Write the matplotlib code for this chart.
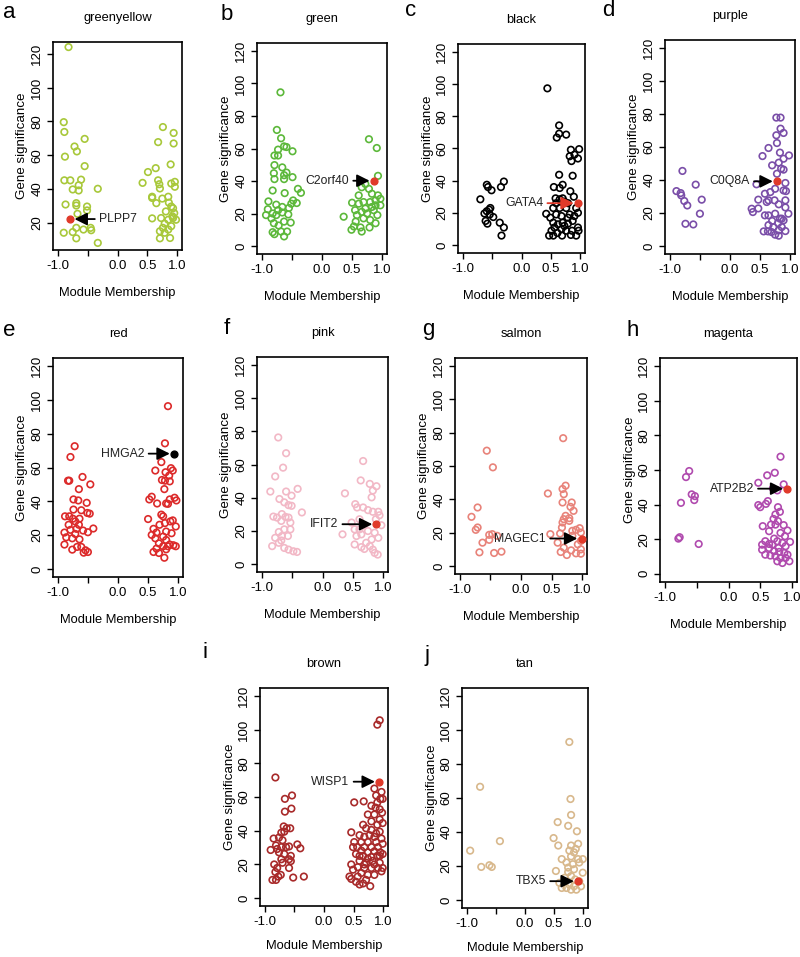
import numpy as np
import matplotlib
matplotlib.use('Agg')
import matplotlib.pyplot as plt

plt.rcParams['font.family'] = ['Liberation Sans', 'DejaVu Sans']

# module membership (x) and gene significance (y) for each module
greenyellow_mm = [-0.82, -0.90, -0.89, -0.72, -0.68, -0.55, -0.88, -0.55, -0.89, -0.79, -0.61, -0.65, -0.75,
                  -0.65, -0.33, -0.87, -0.69, -0.69, -0.51, -0.51, -0.67, -0.69, -0.57, -0.45, -0.44, -0.90,
                  -0.75, -0.69, -0.33,
                  0.42, 0.51, 0.64, 0.76, 0.68, 0.94, 0.94, 0.89, 0.68, 0.70, 0.71, 0.58, 0.58, 0.65, 0.75,
                  0.85, 0.86, 0.90, 0.93, 0.95, 0.93, 0.90, 0.96, 0.96, 0.81, 0.73, 0.58, 0.85, 0.98, 0.79,
                  0.76, 0.71, 0.85, 0.90, 0.79, 0.71, 0.88, 0.92]
greenyellow_gs = [124, 79.6, 73.8, 65.2, 62.3, 69.7, 59.2, 53.6, 45.2, 45.2, 45.6, 42.3, 39.8,
                  39.2, 40.2, 30.9, 31.7, 30.3, 29.7, 27.4, 25.4, 17.1, 16.1, 17.1, 15.7, 14.2,
                  14.6, 10.9, 8.2,
                  43.7, 50.1, 52.4, 76.7, 67.8, 73.2, 67.0, 54.6, 45.2, 42.9, 40.4, 35.5, 34.8, 31.7, 34.4,
                  35.5, 32.0, 29.7, 28.7, 25.8, 22.9, 43.3, 44.3, 41.4, 26.8, 22.9, 22.7, 21.9, 21.9, 19.6,
                  17.1, 15.1, 16.1, 18.1, 14.2, 10.9, 11.1, 23.9]

green_mm = [-0.69, -0.75, -0.68, -0.73, -0.63, -0.59, -0.49, -0.79, -0.73, -0.79, -0.66, -0.80, -0.59, -0.63,
            -0.79, -0.63, -0.49, -0.82, -0.40, -0.35, -0.62, -0.89, -0.48, -0.51, -0.42, -0.76, -0.66, -0.55,
            -0.90, -0.73, -0.82, -0.66, -0.93, -0.76, -0.84, -0.56, -0.63, -0.80, -0.52, -0.82, -0.68, -0.58,
            -0.79, -0.63, -0.72,
            0.78, 0.91, 0.93, 0.36, 0.50, 0.49, 0.61, 0.66, 0.72, 0.78, 0.83, 0.93, 0.97, 0.89, 0.80, 0.69,
            0.61, 0.55, 0.66, 0.75, 0.86, 0.92, 0.80, 0.69, 0.56, 0.53, 0.64, 0.79, 0.89, 0.97, 0.72, 0.83,
            0.58, 0.66, 0.89]
green_gs = [94.5, 71.4, 66.3, 59.3, 61.3, 60.9, 58.3, 55.7, 55.7, 49.8, 48.4, 44.8, 45.2, 43.6,
            41.2, 41.2, 42.4, 34.2, 35.2, 32.8, 32.6, 27.5, 28.1, 26.1, 26.5, 25.5, 24.1, 23.5,
            22.7, 22.1, 20.1, 20.7, 19.1, 19.1, 17.1, 19.5, 15.1, 14.1, 14.5, 8.6, 9.0, 9.0,
            7.4, 6.0, 12.7,
            65.7, 60.3, 43.2, 18.1, 26.7, 10.1, 31.2, 36.2, 38.2, 35.2, 32.2, 31.2, 25.1, 28.1, 27.1, 27.1,
            26.1, 22.1, 21.1, 20.1, 22.1, 19.1, 16.1, 17.1, 15.1, 12.1, 11.5, 11.5, 14.1, 29.1, 23.1, 24.1,
            19.1, 9.0, 25.1]

black_mm = [-0.70, -0.59, -0.57, -0.51, -0.35, -0.30, -0.59, -0.53, -0.55, -0.48, -0.61, -0.58, -0.37,
            -0.30, -0.34, -0.54, -0.63,
            0.44, 0.64, 0.64, 0.60, 0.76, 0.98, 0.84, 0.90, 0.96, 0.82, 0.85, 0.64, 0.87, 0.70, 0.65,
            0.55, 0.83, 0.89, 0.58, 0.65, 0.70, 0.73, 0.79, 0.59, 0.54, 0.65, 0.76, 0.93, 0.96, 0.42,
            0.49, 0.59, 0.68, 0.79, 0.54, 0.62, 0.70, 0.79, 0.87, 0.56, 0.68, 0.76, 0.86, 0.96, 0.97,
            0.51, 0.61, 0.54, 0.69, 0.84, 0.93, 0.47, 0.73, 0.82, 0.90]
black_gs = [28.5, 37.5, 36.1, 34.1, 36.1, 39.5, 21.1, 23.1, 22.1, 17.5, 15.1, 13.4, 14.0,
            11.0, 6.0, 19.1, 19.7,
            97.3, 74.3, 69.2, 66.8, 68.6, 59.6, 59.2, 56.2, 53.8, 55.2, 52.2, 43.7, 43.1, 37.5, 35.5,
            36.1, 33.5, 30.1, 29.1, 28.5, 29.1, 27.1, 26.1, 26.1, 23.1, 23.1, 23.1, 23.1, 20.1, 19.5,
            17.1, 19.1, 18.1, 17.1, 14.0, 13.0, 14.0, 13.4, 15.1, 11.0, 10.0, 9.0, 9.0, 11.0, 9.0,
            9.0, 7.6, 6.0, 6.0, 6.4, 6.0, 6.0, 12.0, 19.1, 18.1]

purple_mm = [-0.89, -0.82, -0.81, -0.79, -0.76, -0.71, -0.57, -0.47, -0.50, -0.74, -0.61,
             0.77, 0.84, 0.84, 0.89, 0.77, 0.78, 0.64, 0.54, 0.83, 0.98, 0.89, 0.81, 0.70, 0.85, 0.89,
             0.78, 0.44, 0.92, 0.89, 0.93, 0.75, 0.58, 0.67, 0.47, 0.64, 0.74, 0.61, 0.81, 0.92, 0.97,
             0.36, 0.38, 0.47, 0.92, 0.58, 0.64, 0.75, 0.83, 0.89, 0.70, 0.80, 0.64, 0.86, 0.72, 0.81,
             0.56, 0.63, 0.69, 0.92, 0.75, 0.81, 0.86]
purple_gs = [33.3, 32.1, 30.7, 45.5, 27.3, 24.6, 37.2, 28.1, 19.6, 13.5, 13.1,
             77.8, 77.8, 71.1, 68.5, 67.1, 62.4, 59.4, 54.5, 56.6, 54.9, 52.9, 50.5, 48.9, 46.9, 46.3,
             43.8, 37.4, 38.2, 33.7, 33.3, 34.7, 31.7, 32.7, 28.1, 27.7, 27.7, 26.7, 25.3, 27.7, 19.6,
             22.6, 20.6, 22.8, 23.4, 18.6, 18.6, 19.6, 16.6, 15.6, 15.2, 13.9, 12.7, 11.5, 11.5, 9.5,
             8.9, 8.9, 8.5, 9.1, 6.9, 6.3, 16.6]

red_mm = [-0.72, -0.79, -0.83, -0.81, -0.59, -0.46, -0.65, -0.74, -0.66, -0.52, -0.74, -0.61, -0.51,
          -0.47, -0.88, -0.81, -0.75, -0.64, -0.71, -0.82, -0.65, -0.69, -0.41, -0.79, -0.58, -0.50,
          -0.89, -0.71, -0.86, -0.76, -0.64, -0.89, -0.68, -0.76, -0.54, -0.57, -0.50, -0.61,
          0.83, 0.78, 0.72, 0.62, 0.88, 0.91, 0.79, 0.85, 0.73, 0.78, 0.86, 0.77, 0.56, 0.52, 0.94,
          0.97, 0.86, 0.83, 0.65, 0.80, 0.72, 0.75, 0.50, 0.91, 0.87, 0.78, 0.69, 0.96, 0.59, 0.64,
          0.56, 0.80, 0.89, 0.75, 0.62, 0.68, 0.80, 0.86, 0.92, 0.96, 0.75, 0.64, 0.80, 0.59, 0.68,
          0.77, 0.83]
red_gs = [72.6, 66.2, 52.2, 52.2, 54.4, 50.0, 47.2, 41.1, 40.5, 39.1, 35.1, 34.7, 33.1,
          32.7, 31.1, 31.1, 29.7, 29.7, 28.1, 26.1, 26.1, 23.7, 23.9, 23.1, 22.7, 21.7,
          21.5, 20.7, 18.7, 18.1, 17.5, 14.4, 13.0, 11.4, 11.0, 9.6, 10.0, 13.0,
          96.3, 74.3, 63.2, 58.2, 59.6, 58.2, 57.2, 55.2, 52.6, 52.2, 51.8, 47.2, 42.7, 41.1, 42.1,
          40.5, 41.1, 38.5, 38.7, 38.7, 32.1, 31.1, 29.5, 28.7, 28.1, 27.1, 26.1, 25.1, 23.7, 21.5,
          20.1, 22.1, 21.1, 19.1, 18.1, 15.1, 17.1, 14.4, 14.0, 13.4, 13.4, 12.0, 11.6, 10.0, 9.4,
          6.6, 13.4]

pink_mm = [-0.73, -0.60, -0.65, -0.78, -0.41, -0.86, -0.60, -0.51, -0.71, -0.63, -0.56, -0.51, -0.34,
           -0.67, -0.81, -0.75, -0.61, -0.56, -0.68, -0.53, -0.63, -0.53, -0.72, -0.57, -0.78, -0.68,
           -0.72, -0.83, -0.63, -0.56, -0.48, -0.42, -0.67,
           0.67, 0.63, 0.78, 0.89, 0.83, 0.81, 0.37, 0.54, 0.57, 0.67, 0.75, 0.83, 0.92, 0.94, 0.48,
           0.61, 0.69, 0.88, 0.97, 0.33, 0.56, 0.64, 0.75, 0.86, 0.92, 0.81, 0.72, 0.53, 0.64, 0.69,
           0.78, 0.86, 0.91, 0.83, 0.53, 0.61]
pink_gs = [76.3, 66.8, 58.1, 52.8, 45.3, 43.7, 43.7, 41.2, 39.2, 37.2, 35.5, 35.1, 31.1,
           30.1, 28.6, 28.0, 28.4, 28.0, 26.0, 25.0, 20.9, 20.9, 19.3, 16.9, 15.8, 14.2,
           12.8, 10.8, 9.7, 8.7, 7.7, 7.3, 16.9,
           62.1, 50.4, 48.3, 46.9, 44.3, 40.2, 42.6, 36.1, 34.1, 34.1, 32.5, 31.5, 31.5, 29.4, 25.0,
           27.0, 23.4, 27.0, 23.4, 17.9, 16.9, 17.9, 19.9, 18.9, 15.8, 14.8, 12.8, 11.8, 10.2, 9.1,
           10.8, 6.7, 5.7, 8.7, 20.9, 20.9]

salmon_mm = [-0.56, -0.46, -0.71, -0.81, -0.71, -0.74, -0.52, -0.47, -0.39, -0.52, -0.63, -0.68, -0.44, -0.32,
             0.69, 0.44, 0.68, 0.73, 0.70, 0.68, 0.83, 0.81, 0.86, 0.73, 0.79, 0.70, 0.68, 0.67, 0.79,
             0.84, 0.90, 0.96, 0.98, 0.64, 0.48, 0.60, 0.84, 0.93, 0.98, 0.65, 0.82, 0.75, 0.90, 0.98,
             0.98, 0.70]
salmon_gs = [69.2, 59.2, 35.1, 29.5, 23.1, 21.7, 18.7, 19.1, 18.1, 15.7, 14.0, 8.2, 7.8, 8.6,
             76.7, 43.5, 46.2, 48.2, 43.1, 38.1, 38.1, 35.5, 33.1, 30.1, 28.7, 28.1, 26.1, 23.1, 27.1,
             21.1, 21.7, 22.7, 20.1, 19.5, 19.1, 14.0, 18.1, 13.0, 15.1, 8.4, 9.4, 6.6, 7.6, 7.4,
             10.0, 11.0]

magenta_mm = [-0.62, -0.67, -0.75, -0.58, -0.53, -0.54, -0.79, -0.77, -0.47,
              0.82, 0.73, 0.61, 0.47, 0.87, 0.77, 0.70, 0.59, 0.62, 0.47, 0.50, 0.78, 0.81, 0.74, 0.71,
              0.78, 0.67, 0.74, 0.87, 0.93, 0.54, 0.64, 0.82, 0.89, 0.72, 0.58, 0.53, 0.64, 0.77, 0.85,
              0.97, 0.90, 0.53, 0.64, 0.72, 0.80, 0.88, 0.93, 0.58, 0.66, 0.74, 0.82, 0.90, 0.96, 0.77,
              0.85, 0.79, 0.69]
magenta_gs = [59.4, 55.9, 41.0, 45.9, 44.9, 42.6, 20.3, 21.1, 17.2,
              67.7, 58.4, 56.9, 52.6, 51.7, 48.2, 49.3, 40.4, 42.0, 39.7, 38.5, 38.5, 35.8, 34.3, 31.7,
              30.4, 28.4, 28.4, 28.1, 25.0, 27.5, 24.6, 23.6, 21.7, 20.3, 18.8, 16.8, 17.2, 18.8, 17.8,
              18.4, 15.9, 13.9, 14.9, 13.0, 12.6, 12.0, 11.0, 11.0, 10.5, 10.1, 9.1, 9.1, 7.2, 7.2,
              6.2, 14.9, 16.8]

brown_mm = [-0.82, -0.66, -0.54, -0.66, -0.55, -0.68, -0.63, -0.57, -0.72, -0.67, -0.85, -0.76, -0.70,
            -0.45, -0.40, -0.90, -0.81, -0.79, -0.72, -0.64, -0.59, -0.76, -0.67, -0.56, -0.59, -0.84,
            -0.70, -0.56, -0.79, -0.59, -0.82, -0.73, -0.81, -0.87, -0.77, -0.52, -0.34, -0.72,
            0.94, 0.90, 0.85, 0.88, 0.95, 0.99, 0.80, 0.87, 0.94, 0.74, 0.85, 0.98, 0.51, 0.67, 0.80,
            0.90, 0.99, 0.66, 0.71, 0.80, 0.94, 0.46, 0.60, 0.68, 0.77, 0.85, 0.97, 0.51, 0.63, 0.74,
            0.88, 0.99, 0.56, 0.68, 0.80, 0.91, 0.49, 0.63, 0.74, 0.85, 0.95, 0.99, 0.54, 0.66, 0.80,
            0.90, 0.60, 0.71, 0.82, 0.94, 0.46, 0.57, 0.68, 0.80, 0.91, 0.99, 0.49, 0.63, 0.74, 0.85,
            0.57, 0.43, 0.46, 0.54, 0.60, 0.66, 0.78, 0.71, 0.97, 0.85, 0.74, 0.88, 0.94, 0.90, 0.97,
            0.60, 0.68, 0.94]
brown_gs = [71.6, 58.9, 60.9, 51.3, 53.1, 42.5, 41.4, 41.4, 38.8, 39.4, 35.3, 35.9, 34.3,
            31.8, 29.5, 28.5, 31.2, 29.1, 30.2, 30.2, 30.6, 27.1, 26.1, 25.0, 23.0, 19.9,
            20.9, 21.9, 17.8, 17.8, 15.4, 13.7, 10.7, 10.7, 12.7, 12.1, 12.7, 23.0,
            105.6, 103.0, 65.0, 60.9, 58.9, 58.9, 54.8, 53.7, 52.7, 49.6, 49.6, 50.7, 56.8, 57.4, 45.5,
            43.5, 44.5, 43.5, 41.4, 40.4, 39.4, 39.0, 37.3, 36.3, 37.3, 36.3, 35.3, 33.2, 33.2, 33.2,
            33.2, 32.2, 30.2, 30.2, 30.2, 30.2, 30.2, 28.1, 27.1, 27.7, 27.1, 26.1, 26.1, 25.0, 24.4,
            25.0, 22.0, 20.9, 22.0, 20.9, 19.9, 18.3, 17.8, 17.8, 17.8, 17.8, 16.8, 14.8, 13.7, 13.7,
            12.7, 12.7, 11.3, 9.6, 8.0, 8.6, 7.0, 10.7, 15.8, 19.9, 23.4, 38.4, 46.6, 56.8, 63.0,
            25.0, 19.9, 25.0]

tan_mm = [-0.94, -0.77, -0.75, -0.61, -0.57, -0.43,
          0.76, 0.78, 0.79, 0.74, 0.56, 0.89, 0.49, 0.57, 0.79, 0.91, 0.87, 0.76, 0.84, 0.63, 0.79,
          0.91, 0.99, 0.71, 0.82, 0.93, 0.74, 0.53, 0.84, 0.99, 0.74, 0.79, 0.68, 0.86, 0.63, 0.71,
          0.79, 0.88, 0.96, 0.76, 0.84, 0.59, 0.93]
tan_gs = [29.0, 66.6, 19.4, 20.4, 19.4, 34.6,
          93.0, 59.4, 50.0, 43.6, 45.8, 40.4, 36.4, 32.0, 32.0, 33.0, 30.0, 29.0, 28.0, 24.0, 25.6,
          24.0, 24.0, 22.0, 21.0, 22.0, 19.0, 17.0, 18.0, 16.0, 16.4, 14.0, 13.0, 12.0, 7.0, 7.0,
          6.0, 6.0, 8.0, 9.0, 8.0, 10.0, 11.0]

modules = ['greenyellow', 'green', 'black', 'purple', 'red', 'pink', 'salmon', 'magenta', 'brown', 'tan']
letters = ['a', 'b', 'c', 'd', 'e', 'f', 'g', 'h', 'i', 'j']
mm_data = [greenyellow_mm, green_mm, black_mm, purple_mm, red_mm, pink_mm, salmon_mm, magenta_mm,
           brown_mm, tan_mm]
gs_data = [greenyellow_gs, green_gs, black_gs, purple_gs, red_gs, pink_gs, salmon_gs, magenta_gs,
           brown_gs, tan_gs]

# highlighted hub gene per module
hub_genes = ['PLPP7', 'C2orf40', 'GATA4', 'C0Q8A', 'HMGA2', 'IFIT2', 'MAGEC1', 'ATP2B2', 'WISP1', 'TBX5']
hub_mm = [-0.79, 0.86, 0.96, 0.78, 0.93, 0.89, 0.99, 0.93, 0.93, 0.91]
hub_gs = [22.3, 40.2, 26.1, 39.2, 68.2, 24.0, 16.5, 49.2, 69.1, 11.0]

# drawing colours (as they render in the figure)
point_colors = ['#a8c83a', '#5cb83a', '#000000', '#7a4ea8', '#dc2a2a', '#f2b8c6', '#e8837a',
                '#b04aae', '#a82a2a', '#d8b88c']
hub_colors = ['#e03a2a'] * 10
hub_colors[4] = '#000000'
arrow_colors = ['black'] * 10
arrow_colors[2] = '#e03a2a'

# text anchor x for gene labels (data coords) and alignment
label_x = [-0.31, 0.45, 0.37, 0.33, 0.44, 0.26, 0.41, 0.40, 0.43, 0.36]
label_ha = ['left'] + ['right'] * 9

# axes boxes in pixels: left, top, right, bottom
W, H = 800, 957
boxes = [(53, 42, 182, 250), (257, 43, 387, 254), (458, 44, 585, 253), (665, 40, 795, 254),
         (53, 358, 183, 577), (257, 357, 388, 572), (455, 358, 587, 574), (660, 358, 797, 582),
         (260, 688, 388, 906), (462, 688, 588, 908)]
letter_pos = [(3, 12), (221, 14), (405, 11), (602, 11), (3, 330), (224, 328), (422, 329), (626, 331),
              (203, 653), (425, 655)]

fig = plt.figure(figsize=(W / 100, H / 100), dpi=100)

for i, mod in enumerate(modules):
    l, t, r, b = boxes[i]
    ax = fig.add_axes([l / W, 1 - b / H, (r - l) / W, (b - t) / H])
    ax.scatter(mm_data[i], gs_data[i], s=22, facecolors='none', edgecolors=point_colors[i], linewidths=1.2,
               zorder=2)
    ax.scatter([hub_mm[i]], [hub_gs[i]], s=24, color=hub_colors[i], zorder=4)
    ax.annotate(hub_genes[i], xy=(hub_mm[i], hub_gs[i]), xytext=(label_x[i], hub_gs[i]),
                ha=label_ha[i], va='center', fontsize=8.8, color='#222222', zorder=5,
                arrowprops=dict(arrowstyle='-|>', color=arrow_colors[i], lw=1.3, mutation_scale=19,
                                shrinkA=1, shrinkB=3))

    ax.set_xlim(-1.08, 1.08)
    ax.set_xticks([-1.0, -0.5, 0.0, 0.5, 1.0])
    ax.set_xticklabels(['-1.0', '', '0.0', '0.5', '1.0'])
    if i == 0:
        ax.set_ylim(4, 127)
        ax.set_yticks([20, 40, 60, 80, 100, 120])
    else:
        ax.set_ylim(-4.8, 124.8)
        ax.set_yticks([0, 20, 40, 60, 80, 100, 120])
    for lab in ax.get_yticklabels():
        lab.set_rotation(90)
        lab.set_va('center')

    ax.tick_params(direction='out', length=4, width=1, labelsize=9.5, pad=3)
    for sp in ax.spines.values():
        sp.set_linewidth(1.2)
    ax.set_xlabel('Module Membership', fontsize=9.3, labelpad=11 if i < 8 else 9)
    ax.set_ylabel('Gene significance', fontsize=9.6, labelpad=2)
    ax.set_title(mod, fontsize=9.3, pad=15)

    lx, ly = letter_pos[i]
    fig.text(lx / W, 1 - ly / H, letters[i], fontsize=16, ha='left', va='center')

fig.savefig('out.png', dpi=100, facecolor='white')
